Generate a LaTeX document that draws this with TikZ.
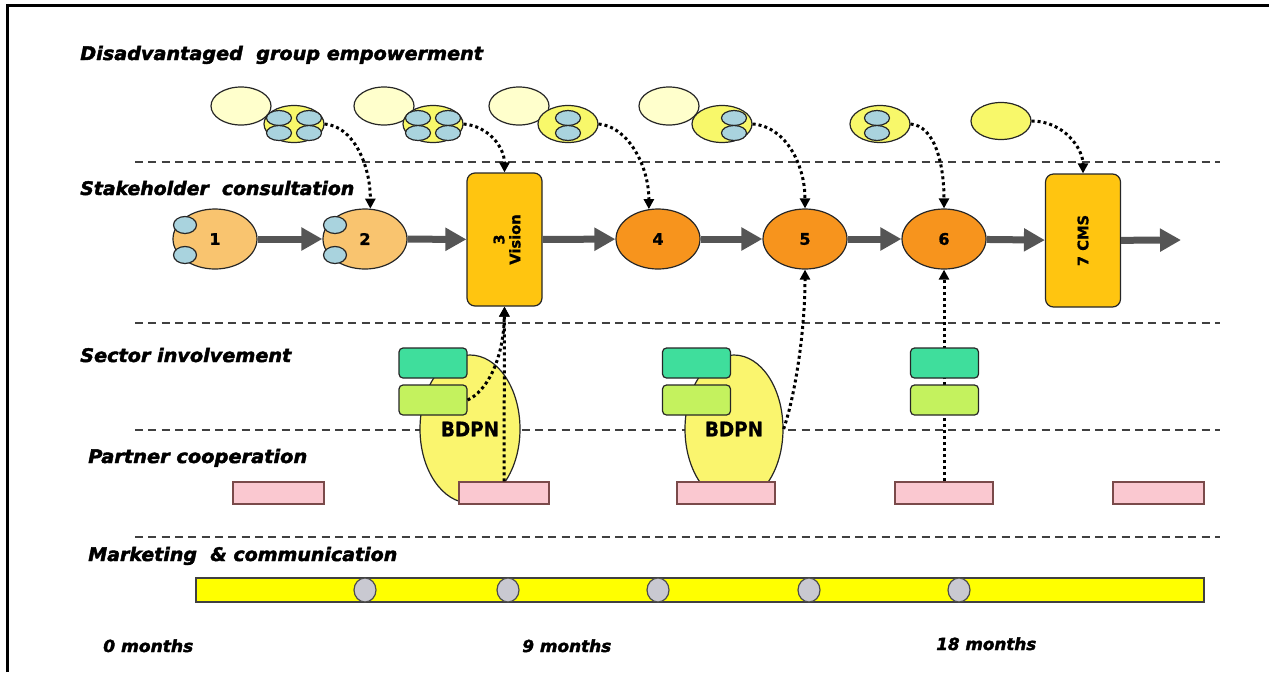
\documentclass[tikz,border=0pt]{standalone}
\usepackage{fontspec}
\setmainfont{DejaVu Sans}[BoldItalicFeatures={FakeBold=2.2},BoldFeatures={FakeBold=1}]
\usepackage{graphicx}
\usetikzlibrary{shapes.geometric,arrows.meta}
\definecolor{paleY}{HTML}{FFFFCC}
\definecolor{yelC}{HTML}{F8F86A}
\definecolor{bluC}{HTML}{A9D3DE}
\definecolor{lorange}{HTML}{F9C46F}
\definecolor{dorange}{HTML}{F7941D}
\definecolor{gold}{HTML}{FFC510}
\definecolor{bdY}{HTML}{FAF56E}
\definecolor{grnA}{HTML}{3FDE9C}
\definecolor{grnB}{HTML}{C4F25E}
\definecolor{pinkC}{HTML}{FAC8D0}
\definecolor{pinkD}{HTML}{7A4A4A}
\definecolor{barY}{HTML}{FFFF00}
\definecolor{grayC}{HTML}{C9C9D1}
\definecolor{arrG}{HTML}{555555}
\newcommand\fitw[2]{\resizebox{#1}{\height}{#2}}
\begin{document}
\begin{tikzpicture}[x=0.75pt,y=-0.75pt,
 lbl/.style={anchor=base west,inner sep=0,font=\fontsize{14pt}{16pt}\selectfont\bfseries\itshape},
 mlbl/.style={anchor=base west,inner sep=0,font=\fontsize{12.5pt}{14pt}\selectfont\bfseries\itshape},
 sepline/.style={draw=black!75,line width=1.4pt,dash pattern=on 6pt off 4pt},
 pale/.style={ellipse,draw=black!85,line width=0.9pt,fill=paleY,minimum width=45pt,minimum height=28.5pt,inner sep=0},
 yel/.style={ellipse,draw=black!85,line width=0.9pt,fill=yelC,minimum width=45pt,minimum height=27.75pt,inner sep=0},
 blu/.style={ellipse,draw=black!85,line width=0.9pt,fill=bluC,minimum width=18.75pt,minimum height=11.25pt,inner sep=0},
 blusm/.style={blu,minimum width=17.25pt,minimum height=12.75pt},
 stn/.style={ellipse,draw=black!85,line width=0.9pt,minimum width=63pt,minimum height=45pt,inner sep=0,font=\fontsize{12pt}{14pt}\selectfont\bfseries},
 lst/.style={stn,fill=lorange},
 dst/.style={stn,fill=dorange},
 gbox/.style={draw=black!85,line width=0.9pt,fill=gold,rounded corners=6pt,minimum width=56.25pt,minimum height=99.75pt,inner sep=0},
 rottext/.style={rotate=90,align=center,inner sep=0,font=\fontsize{11pt}{12pt}\selectfont\bfseries},
 bdpn/.style={ellipse,draw=black!85,line width=0.9pt,fill=bdY,minimum width=75pt,minimum height=111pt,inner sep=0,font=\fontsize{15pt}{17pt}\selectfont\bfseries},
 grA/.style={draw=black!85,line width=0.9pt,fill=grnA,rounded corners=3pt,minimum width=51pt,minimum height=22.5pt,inner sep=0},
 grB/.style={grA,fill=grnB},
 pnk/.style={draw=pinkD,line width=0.9pt,fill=pinkC,minimum height=16.5pt,inner sep=0},
 bigarr/.style={draw=arrG,line width=5.25pt,-{Triangle[length=15.75pt,width=16.5pt]}},
 dotarr/.style={draw=black,line width=2.25pt,dash pattern=on 2.25pt off 2.25pt,-{Triangle[length=7.5pt,width=7.5pt]}},
 gcirc/.style={ellipse,draw=black!70,line width=0.9pt,fill=grayC,minimum width=16.5pt,minimum height=18pt,inner sep=0},
]
\useasboundingbox (0,0) rectangle (1269,672);
% frame
\draw[line width=2.25pt] (7,672) -- (7,5) -- (1269,5);
% separators
\draw[sepline] (135,162) -- (1220,162);
\draw[sepline] (135,323) -- (1220,323);
\draw[sepline] (135,430) -- (1220,430);
\draw[sepline] (135,537) -- (1220,537);
% labels
\node[lbl] (t1) at (80,60) {\fitw{302pt}{Disadvantaged\ \ group empowerment}};
\node[lbl] (t2) at (80,195) {\fitw{205.5pt}{Stakeholder\ \ consultation}};
\node[lbl] (t3) at (80,362) {\fitw{158.25pt}{Sector involvement}};
\node[lbl] (t4) at (88,463) {\fitw{164.25pt}{Partner cooperation}};
\node[lbl] (t5) at (88,561) {\fitw{231.75pt}{Marketing\ \ \& communication}};
\node[mlbl] (m0) at (103,652) {\fitw{67.5pt}{0 months}};
\node[mlbl] (m9) at (522,652) {\fitw{66.75pt}{9 months}};
\node[mlbl] (m18) at (936,650) {\fitw{75pt}{18 months}};
% top row groups
\node[pale] (pa1) at (241,106) {};
\node[yel] (ye1) at (294,124) {};
\node[blu] (b11) at (279,118) {};
\node[blu] (b12) at (309,118) {};
\node[blu] (b13) at (279,133) {};
\node[blu] (b14) at (309,133) {};
\node[pale] (pa2) at (384,106) {};
\node[yel] (ye2) at (433,124) {};
\node[blu] (b21) at (418,118) {};
\node[blu] (b22) at (448,118) {};
\node[blu] (b23) at (418,133) {};
\node[blu] (b24) at (448,133) {};
\node[pale] (pa3) at (519,106) {};
\node[yel] (ye3) at (568,124) {};
\node[blu] (b31) at (568,118) {};
\node[blu] (b32) at (568,133) {};
\node[pale] (pa4) at (669,106) {};
\node[yel] (ye4) at (722,124) {};
\node[blu] (b41) at (734,118) {};
\node[blu] (b42) at (734,133) {};
\node[yel] (ye5) at (880,124) {};
\node[blu] (b51) at (877,118) {};
\node[blu] (b52) at (877,133) {};
\node[yel] (ye6) at (1001,121) {};
% stakeholder row
\node[lst] (n1) at (215,239) {1};
\node[blusm] (c11) at (185,225) {};
\node[blusm] (c12) at (185,255) {};
\node[lst] (n2) at (365,239) {2};
\node[blusm] (c21) at (335,225) {};
\node[blusm] (c22) at (335,255) {};
\node[gbox] (v3) at (504.5,239.5) {};
\node[rottext] (v3t) at (507,239.5) {3\\Vision};
\node[dst] (n4) at (658,239) {4};
\node[dst] (n5) at (805,239) {5};
\node[dst] (n6) at (944,239) {6};
\node[gbox] (c7) at (1083,240.5) {};
\node[rottext] (c7t) at (1083,240.5) {7 CMS};
\coordinate (endc) at (1181,240);
\draw[bigarr] (n1) -- (n2);
\draw[bigarr] (n2) -- (v3);
\draw[bigarr] (v3) -- (n4);
\draw[bigarr] (n4) -- (n5);
\draw[bigarr] (n5) -- (n6);
\draw[bigarr] (n6) -- (c7);
\draw[bigarr] (c7) -- (endc);
% sector / partner rows
\node[bdpn] (bd1) at (470,429) {\fitw{43.5pt}{BDPN}};
\node[bdpn,minimum width=73.5pt] (bd2) at (734,429) {\fitw{43.5pt}{BDPN}};
\node[pnk,minimum width=68.25pt] (p1) at (278.5,493) {};
\node[pnk,minimum width=67.5pt] (p2) at (504,493) {};
\node[pnk,minimum width=73.5pt] (p3) at (726,493) {};
\node[pnk,minimum width=73.5pt] (p4) at (944,493) {};
\node[pnk,minimum width=68.25pt] (p5) at (1158.5,493) {};
\draw[dotarr] (p4) -- (n6);
\node[grA] (g1a) at (433,363) {};
\node[grB] (g1b) at (433,400) {};
\node[grA] (g2a) at (696.5,363) {};
\node[grB] (g2b) at (696.5,400) {};
\node[grA] (g3a) at (944.5,363) {};
\node[grB] (g3b) at (944.5,400) {};
\draw[dotarr] (p2.north) -- (v3.south);
\draw[dotarr] (g1b.east) .. controls +(18,-8) and +(-1,55) .. (v3.south);
\draw[dotarr] (bd2.east) .. controls +(12,-35) and +(0,60) .. (n5.south);
% top dotted arrows
\draw[dotarr] (ye1.east) .. controls +(28,2) and +(0,-45) .. (n2.80);
\draw[dotarr] (ye2.east) .. controls +(25,2) and +(0,-25) .. (v3.north);
\draw[dotarr] (ye3.east) .. controls +(28,2) and +(0,-45) .. (n4.107);
\draw[dotarr] (ye4.east) .. controls +(32,2) and +(0,-45) .. (n5.north);
\draw[dotarr] (ye5.east) .. controls +(24,2) and +(0,-45) .. (n6.north);
\draw[dotarr] (ye6.east) .. controls +(32,0) and +(0,-25) .. (c7.north);
% marketing bar
\node[draw=black!75,line width=0.9pt,fill=barY,minimum width=756pt,minimum height=18pt,inner sep=0] (bar) at (700,590) {};
\node[gcirc] (k1) at (365,590) {};
\node[gcirc] (k2) at (508,590) {};
\node[gcirc] (k3) at (658,590) {};
\node[gcirc] (k4) at (809,590) {};
\node[gcirc] (k5) at (959,590) {};
\end{tikzpicture}
\end{document}
